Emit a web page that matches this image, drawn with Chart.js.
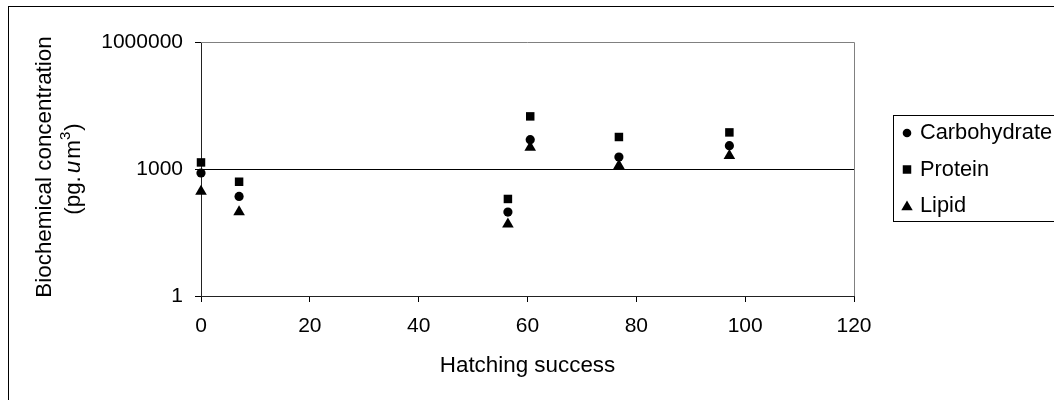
<!DOCTYPE html>
<html><head><meta charset="utf-8">
<script src="https://cdn.jsdelivr.net/npm/chart.js@4.4.0/dist/chart.umd.min.js"></script>
<style>html,body{margin:0;padding:0;background:#fff}#wrap{width:1054px;height:400px;position:relative}</style>
</head><body><div id="wrap"><canvas id="c" width="1054" height="400"></canvas></div>
<script>
const hatching = [0, 7, 56.4, 60.5, 76.8, 97.1];
const carbohydrate = [805, 225, 96, 4920, 1920, 3550];
const protein = [1430, 500, 196, 17500, 5700, 7320];
const lipid = [296, 97, 50, 3240, 1200, 2060];
const yTicks = [1, 1000, 1000000];
const xTicks = [0, 20, 40, 60, 80, 100, 120];
const seriesNames = ['Carbohydrate', 'Protein', 'Lipid'];
const xTitle = 'Hatching success';
const yTitleLine1 = 'Biochemical concentration';

const FONT = '"Liberation Sans", Arial, sans-serif';
const FS = 21;     // tick labels
const FT = 22.4;   // axis titles
const FL = 21.8;   // legend

function pts(ys) { return hatching.map((x, i) => ({ x: x, y: ys[i] })); }

const markerStyles = [
  { style: 'circle', r: 4.6 },
  { style: 'rect', r: 6 },
  { style: 'triangle', r: 6.7 }
];

function drawMarker(ctx, style, x, y, r) {
  ctx.beginPath();
  if (style === 'circle') {
    ctx.arc(x, y, r, 0, Math.PI * 2);
  } else if (style === 'rect') {
    const s = r * Math.SQRT1_2;
    ctx.rect(x - s, y - s, 2 * s, 2 * s);
  } else {
    ctx.moveTo(x, y - r);
    ctx.lineTo(x + 0.866 * r, y + 0.5 * r);
    ctx.lineTo(x - 0.866 * r, y + 0.5 * r);
    ctx.closePath();
  }
  ctx.fillStyle = '#000';
  ctx.fill();
}

const decor = {
  id: 'decor',
  beforeDatasetsDraw(chart) {
    const ctx = chart.ctx, a = chart.chartArea;
    ctx.save();
    ctx.strokeStyle = '#808080';
    ctx.lineWidth = 1;
    ctx.beginPath();
    ctx.moveTo(a.left, a.top + 0.5);
    ctx.lineTo(a.right + 0.5, a.top + 0.5);
    ctx.lineTo(a.right + 0.5, a.bottom);
    ctx.stroke();
    ctx.restore();
  },
  afterDraw(chart) {
    const ctx = chart.ctx, a = chart.chartArea;
    ctx.save();
    // outer frame
    ctx.strokeStyle = '#000';
    ctx.lineWidth = 1;
    ctx.strokeRect(8.5, 6.5, 1200, 600);
    // x title
    ctx.fillStyle = '#000';
    ctx.font = FT + 'px ' + FONT;
    ctx.textAlign = 'center';
    ctx.textBaseline = 'middle';
    ctx.fillText(xTitle, (a.left + a.right) / 2, 366);
    // y title (rotated)
    const cy = (a.top + a.bottom) / 2 - 2;
    ctx.save();
    ctx.translate(45, cy);
    ctx.rotate(-Math.PI / 2);
    ctx.fillText(yTitleLine1, 0, 0);
    ctx.restore();
    ctx.save();
    ctx.translate(74, cy + 2);
    ctx.rotate(-Math.PI / 2);
    ctx.textAlign = 'left';
    const parts = [
      { t: '(pg.', f: FT + 'px ' + FONT, dy: 0, gap: 3 },
      { t: 'u', f: 'italic ' + FT + 'px ' + FONT, dy: 0, gap: 2 },
      { t: 'm', f: FT + 'px ' + FONT, dy: 0, gap: 0 },
      { t: '3', f: '15px ' + FONT, dy: -8, gap: 1 },
      { t: ')', f: FT + 'px ' + FONT, dy: 0, gap: 0 }
    ];
    let total = 0;
    parts.forEach(p => { ctx.font = p.f; p.w = ctx.measureText(p.t).width + p.gap; total += p.w; });
    let px = -total / 2;
    parts.forEach(p => { ctx.font = p.f; ctx.fillText(p.t, px, p.dy); px += p.w; });
    ctx.restore();
    // legend
    ctx.strokeStyle = '#000';
    ctx.strokeRect(893.5, 115.5, 400, 106);
    const ly = [133, 169.5, 205.5];
    ctx.font = FL + 'px ' + FONT;
    ctx.textAlign = 'left';
    ctx.textBaseline = 'middle';
    seriesNames.forEach((n, i) => {
      const m = markerStyles[i];
      const rr = i === 0 ? 4.3 : (i === 1 ? 6 : 6.6);
      drawMarker(ctx, m.style, 907, ly[i] + (i === 2 ? 1.5 : 0), rr);
      ctx.fillStyle = '#000';
      ctx.fillText(n, 920, ly[i]);
    });
    ctx.restore();
  }
};

const seriesData = [carbohydrate, protein, lipid];

new Chart(document.getElementById('c'), {
  type: 'scatter',
  data: {
    datasets: seriesNames.map((n, i) => ({
      label: n,
      data: pts(seriesData[i]),
      pointStyle: markerStyles[i].style,
      pointRadius: markerStyles[i].r,
      pointHoverRadius: markerStyles[i].r,
      backgroundColor: '#000',
      borderColor: '#000',
      borderWidth: 0,
      showLine: false,
      clip: false
    }))
  },
  options: {
    responsive: false,
    animation: false,
    events: [],
    layout: { padding: { left: 91, right: 200, top: 42, bottom: 44 } },
    plugins: { legend: { display: false }, tooltip: { enabled: false } },
    scales: {
      x: {
        type: 'linear',
        min: 0, max: 120,
        afterBuildTicks: s => { s.ticks = xTicks.map(v => ({ value: v })); },
        afterFit: s => { s.height = 60; },
        ticks: { color: '#000', font: { family: FONT, size: FS }, padding: 12, maxRotation: 0, autoSkip: false },
        grid: { drawOnChartArea: false, drawTicks: true, tickLength: 6, tickColor: '#000', color: '#000' },
        border: { color: '#222', width: 1 }
      },
      y: {
        type: 'logarithmic',
        min: 1, max: 1000000,
        afterBuildTicks: s => { s.ticks = yTicks.map(v => ({ value: v })); },
        afterFit: s => { s.width = 110; },
        ticks: { color: '#000', font: { family: FONT, size: FS }, padding: 12, autoSkip: false,
          callback: v => String(v) },
        grid: { drawTicks: true, tickLength: 6, tickColor: '#000',
          color: c => (c.tick && c.tick.value === 1000) ? '#000' : 'rgba(0,0,0,0)' },
        border: { color: '#222', width: 1 }
      }
    }
  },
  plugins: [decor]
});
</script>
</body></html>
